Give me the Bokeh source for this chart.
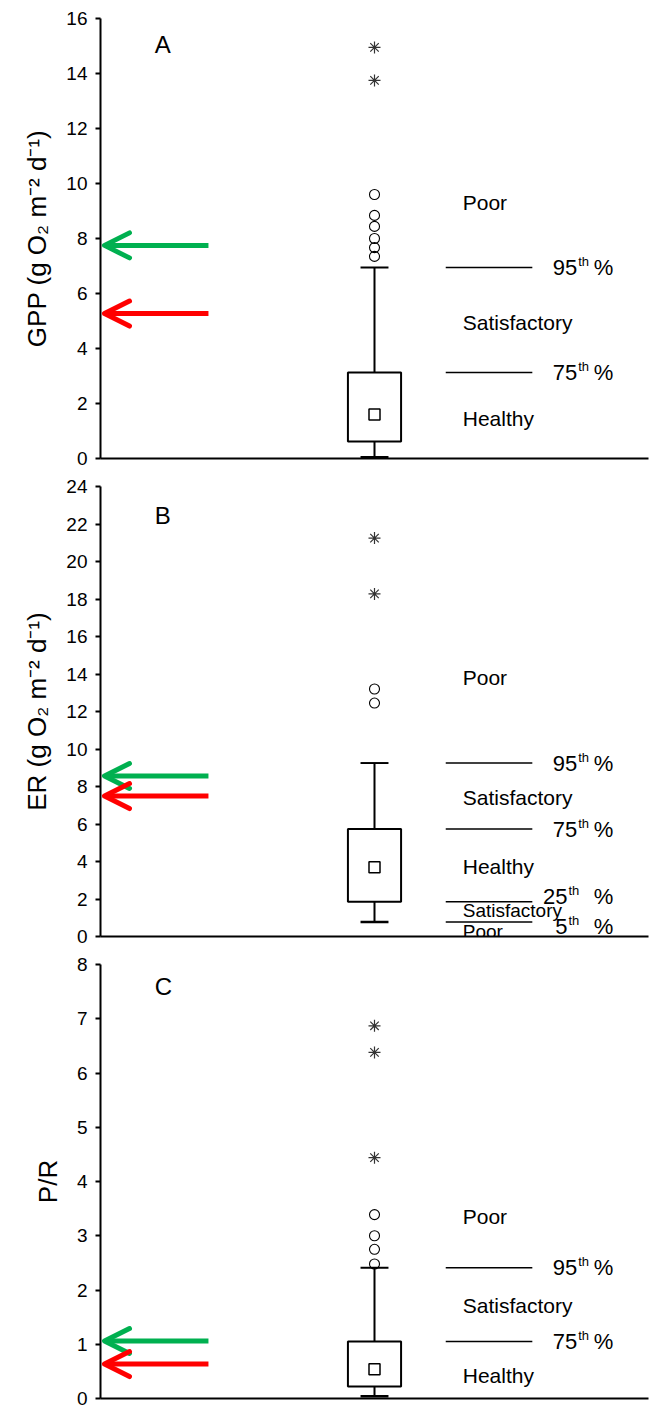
from bokeh.plotting import figure
from bokeh.models import Range1d, FixedTicker, Arrow, OpenHead
from bokeh.layouts import column
from bokeh.embed import file_html
from bokeh.resources import INLINE
from bokeh.core.properties import value

FONT = "Liberation Sans"

# ---------------- data ----------------
panel_letters = ["A", "B", "C"]
y_titles = ["GPP (g O\u2082 m\u207b\u00b2 d\u207b\u00b9)", "ER (g O\u2082 m\u207b\u00b2 d\u207b\u00b9)", "P/R"]
y_max = [16, 24, 8]
y_step = [2, 2, 1]
letter_y = [15.07, 22.43, 7.6]

whisker_low = [0.05, 0.77, 0.04]
box_q1 = [0.62, 1.86, 0.22]
box_q3 = [3.13, 5.73, 1.05]
whisker_high = [6.95, 9.25, 2.41]
box_mean = [1.6, 3.7, 0.54]

outlier_circles = [
    [9.6, 8.84, 8.44, 8.0, 7.67, 7.35],
    [13.2, 12.45],
    [3.39, 3.0, 2.75, 2.48],
]
outlier_stars = [
    [14.95, 13.75],
    [21.25, 18.27],
    [6.87, 6.38, 4.44],
]

pct_names = [["95", "75"], ["95", "75", "25", "5"], ["95", "75"]]
pct_values = [[6.95, 3.13], [9.25, 5.73, 1.86, 0.77], [2.41, 1.05]]
pct_label_y = [[6.95, 3.13], [9.25, 5.73, 2.16, 0.51], [2.41, 1.05]]
pct_label_x = [[0.870, 0.870], [0.870, 0.870, 0.852, 0.852], [0.870, 0.870]]

class_names = [
    ["Poor", "Satisfactory", "Healthy"],
    ["Poor", "Satisfactory", "Healthy", "Satisfactory", "Poor"],
    ["Poor", "Satisfactory", "Healthy"],
]
class_y = [
    [9.3, 4.95, 1.45],
    [13.8, 7.44, 3.76, 1.41, 0.29],
    [3.35, 1.72, 0.42],
]
class_small = [
    [False, False, False],
    [False, False, False, True, True],
    [False, False, False],
]

green_arrow = [7.75, 8.56, 1.06]
red_arrow = [5.27, 7.49, 0.635]

# ---------------- layout constants ----------------
heights = [472, 478, 460]
tops = [18, 14, 14]
bottoms = [14, 14, 12]
BX = 0.5
BOX_W = 0.097
CAP_W = 0.051
GREEN = "#00b050"
RED = "#ff0000"


def make_panel(i):
    p = figure(width=652, height=heights[i],
               x_range=Range1d(0, 1), y_range=Range1d(0, y_max[i]),
               output_backend="svg", toolbar_location=None,
               min_border_left=100, min_border_right=4,
               min_border_top=tops[i], min_border_bottom=bottoms[i])
    p.outline_line_color = None
    p.grid.visible = False
    p.background_fill_color = "white"

    # y axis
    p.yaxis.ticker = FixedTicker(ticks=list(range(0, y_max[i] + 1, y_step[i])))
    p.yaxis.axis_label = y_titles[i]
    p.yaxis.axis_label_text_font = FONT
    p.yaxis.axis_label_text_font_size = "26px"
    p.yaxis.axis_label_text_font_style = "normal"
    p.yaxis.axis_label_text_color = "black"
    p.yaxis.axis_label_standoff = 11
    p.yaxis.major_label_text_font = FONT
    p.yaxis.major_label_text_font_size = "19px"
    p.yaxis.major_label_text_color = "black"
    p.yaxis.major_label_standoff = 8
    p.yaxis.axis_line_width = 2
    p.yaxis.axis_line_color = "black"
    p.yaxis.major_tick_line_width = 2
    p.yaxis.major_tick_line_color = "black"
    p.yaxis.major_tick_out = 5
    p.yaxis.major_tick_in = 0
    p.yaxis.minor_tick_line_color = None

    # x axis: only the line
    p.xaxis.ticker = FixedTicker(ticks=[])
    p.xaxis.major_label_text_font_size = "0px"
    p.xaxis.major_label_standoff = 0
    p.xaxis.major_tick_line_color = None
    p.xaxis.minor_tick_line_color = None
    p.xaxis.axis_line_width = 2
    p.xaxis.axis_line_color = "black"

    # box plot
    p.segment(x0=[BX], x1=[BX], y0=[box_q3[i]], y1=[whisker_high[i]], line_color="black", line_width=2)
    p.segment(x0=[BX], x1=[BX], y0=[whisker_low[i]], y1=[box_q1[i]], line_color="black", line_width=2)
    p.quad(left=[BX - BOX_W / 2], right=[BX + BOX_W / 2], bottom=[box_q1[i]], top=[box_q3[i]],
           fill_color=None, line_color="black", line_width=2)
    p.segment(x0=[BX - CAP_W / 2], x1=[BX + CAP_W / 2], y0=[whisker_high[i]], y1=[whisker_high[i]],
              line_color="black", line_width=2)
    p.segment(x0=[BX - CAP_W / 2], x1=[BX + CAP_W / 2], y0=[whisker_low[i]], y1=[whisker_low[i]],
              line_color="black", line_width=2.5)
    p.scatter(x=[BX], y=[box_mean[i]], marker="square", size=11, fill_color="white",
              line_color="black", line_width=1.5)
    oc = outlier_circles[i]
    p.scatter(x=[BX] * len(oc), y=oc, marker="circle", size=10, fill_color=None,
              line_color="black", line_width=1.1)
    os_ = outlier_stars[i]
    p.scatter(x=[BX] * len(os_), y=os_, marker="asterisk", size=12,
              line_color="#333333", line_width=1.2)

    # percentile reference lines and labels
    pv = pct_values[i]
    p.segment(x0=[0.63] * len(pv), x1=[0.788] * len(pv), y0=pv, y1=pv,
              line_color="black", line_width=1.5)
    ly = pct_label_y[i]
    lx = pct_label_x[i]
    p.text(x=lx, y=ly, text=pct_names[i], text_font=value(FONT), text_font_size="22px",
           text_align="right", text_baseline="middle", text_color="black")
    p.text(x=lx, y=ly, text=["th"] * len(ly), text_font=value(FONT), text_font_size="13px",
           text_align="left", text_baseline="middle", text_color="black", x_offset=1, y_offset=-6)
    p.text(x=[0.900] * len(ly), y=ly, text=["%"] * len(ly), text_font=value(FONT), text_font_size="22px",
           text_align="left", text_baseline="middle", text_color="black")

    # class labels
    big = [(n, y) for n, y, s in zip(class_names[i], class_y[i], class_small[i]) if not s]
    small = [(n, y) for n, y, s in zip(class_names[i], class_y[i], class_small[i]) if s]
    p.text(x=[0.661] * len(big), y=[b[1] for b in big], text=[b[0] for b in big],
           text_font=value(FONT), text_font_size="21px", text_align="left",
           text_baseline="middle", text_color="black")
    if small:
        p.text(x=[0.661] * len(small), y=[s[1] for s in small], text=[s[0] for s in small],
               text_font=value(FONT), text_font_size="19px", text_align="left",
               text_baseline="middle", text_color="black")

    # panel letter
    p.text(x=[0.099], y=[letter_y[i]], text=[panel_letters[i]], text_font=value(FONT),
           text_font_size="24px", text_align="left", text_baseline="middle", text_color="black")

    # arrows
    for val, col in ((green_arrow[i], GREEN), (red_arrow[i], RED)):
        p.add_layout(Arrow(end=OpenHead(size=25, line_color=col, line_width=5,
                                        line_cap="round", line_join="round"),
                           x_start=0.197, y_start=val, x_end=0.0073, y_end=val,
                           line_color=col, line_width=5))
    return p


plots = [make_panel(i) for i in range(3)]
layout = column(*plots, spacing=0)

open("out.html", "w").write(file_html(layout, INLINE))
